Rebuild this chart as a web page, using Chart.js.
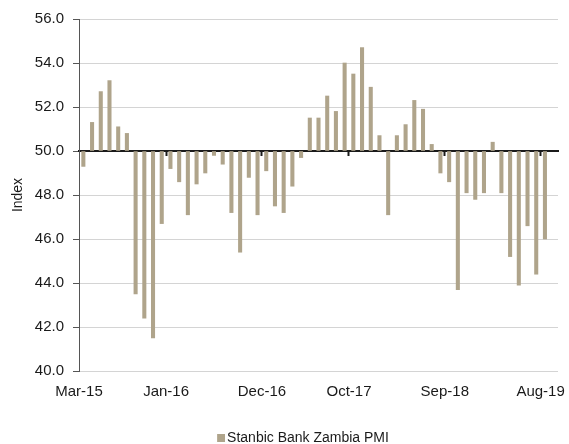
<!DOCTYPE html>
<html>
<head>
<meta charset="utf-8">
<script src="https://cdn.jsdelivr.net/npm/chart.js@4"></script>
<style>
body { margin: 0; background: #fff; }
</style>
</head>
<body>
<canvas id="pmiChart" width="569" height="444"></canvas>
<script>
// Stanbic Bank Zambia PMI, monthly, bars drawn from the 50 line

const months = [
	"Mar-15", "Apr-15", "May-15", "Jun-15", "Jul-15", "Aug-15", "Sep-15", "Oct-15", "Nov-15", "Dec-15",
	"Jan-16", "Feb-16", "Mar-16", "Apr-16", "May-16", "Jun-16", "Jul-16", "Aug-16", "Sep-16", "Oct-16",
	"Nov-16", "Dec-16", "Jan-17", "Feb-17", "Mar-17", "Apr-17", "May-17", "Jun-17", "Jul-17", "Aug-17",
	"Sep-17", "Oct-17", "Nov-17", "Dec-17", "Jan-18", "Feb-18", "Mar-18", "Apr-18", "May-18", "Jun-18",
	"Jul-18", "Aug-18", "Sep-18", "Oct-18", "Nov-18", "Dec-18", "Jan-19", "Feb-19", "Mar-19", "Apr-19",
	"May-19", "Jun-19", "Jul-19", "Aug-19"
];

const pmi = [
	49.3, 51.3, 52.7, 53.2, 51.1, 50.8, 43.5, 42.4, 41.5, 46.7,
	49.2, 48.6, 47.1, 48.5, 49.0, 49.8, 49.4, 47.2, 45.4, 48.8,
	47.1, 49.1, 47.5, 47.2, 48.4, 49.7, 51.5, 51.5, 52.5, 51.8,
	54.0, 53.5, 54.7, 52.9, 50.7, 47.1, 50.7, 51.2, 52.3, 51.9,
	50.3, 49.0, 48.6, 43.7, 48.1, 47.8, 48.1, 50.4, 48.1, 45.2,
	43.9, 46.6, 44.4, 46.0
];

// labels shown under the axis
const tickLabels = ["Mar-15", "Jan-16", "Dec-16", "Oct-17", "Sep-18", "Aug-19"];

const neutral = 50;
const barColor = "#afa48b";
const textColor = "#1a1a1a";
const fontFamily = "'Liberation Sans', Arial, sans-serif";

// one empty slot after the last month, as in the original axis
const slots = months.concat([""]);
const tickIdx = tickLabels.map(l => months.indexOf(l));

// legend swatch: small square sitting at the right end of a wide, empty icon,
// so the square ends up right next to the text and the item sits further right
const swatch = document.createElement("canvas");
swatch.width = 61;
swatch.height = 8;
let sctx = swatch.getContext("2d");
sctx.fillStyle = barColor;
sctx.fillRect(53, 0, 8, 8);

const ctx = document.getElementById("pmiChart").getContext("2d");
new Chart(ctx, {
	type: "bar",
	data: {
		labels: slots,
		datasets: [{
			label: "Stanbic Bank Zambia PMI",
			data: pmi,
			base: neutral,
			xAxisID: "xb",
			backgroundColor: barColor,
			borderWidth: 0,
			barThickness: 3.4
		}]
	},
	options: {
		responsive: false,
		animation: false,
		layout: { padding: { top: 19, right: 11, left: 0, bottom: -11 } },
		plugins: {
			legend: {
				position: "bottom",
				labels: {
					usePointStyle: true,
					pointStyle: swatch,
					pointStyleWidth: 51,
					boxHeight: 8,
					padding: 2,
					color: textColor,
					font: { family: fontFamily, size: 14 }
				}
			},
			tooltip: { enabled: false }
		},
		scales: {
			x: {
				type: "category",
				position: "bottom",
				offset: true,
				grid: { display: false, drawTicks: false },
				border: { display: false },
				ticks: {
					autoSkip: false,
					maxRotation: 0,
					padding: 12,
					labelOffset: -4.35,
					color: textColor,
					font: { family: fontFamily, size: 15 },
					callback: function(value, index) {
						return tickIdx.includes(index) ? slots[index] : "";
					}
				},
				afterFit: function(scale) { scale.height = 58; }
			},
			xb: {
				type: "category",
				position: { y: neutral },
				offset: true,
				grid: {
					offset: true,
					drawOnChartArea: false,
					tickLength: 4,
					tickWidth: 2,
					tickColor: function(c) {
						return tickIdx.includes(c.index) && c.index > 0 ? "#1a1a1a" : "rgba(0,0,0,0)";
					}
				},
				border: { color: "#1a1a1a", width: 2 },
				ticks: { display: false, autoSkip: false }
			},
			y: {
				min: 40,
				max: 56,
				grid: {
					color: function(c) { return c.tick && c.tick.value === neutral ? "rgba(0,0,0,0)" : "#d4d4d4"; },
					tickColor: "#555555",
					tickLength: 6
				},
				border: { color: "#555555", width: 1 },
				ticks: {
					stepSize: 2,
					padding: 9,
					color: textColor,
					font: { family: fontFamily, size: 15 },
					callback: function(v) { return v.toFixed(1); }
				},
				title: {
					display: true,
					text: "Index",
					color: textColor,
					padding: { top: 10, bottom: 4 },
					font: { family: fontFamily, size: 14 }
				},
				afterFit: function(scale) { scale.width = 79; }
			}
		}
	}
});
</script>
</body>
</html>
